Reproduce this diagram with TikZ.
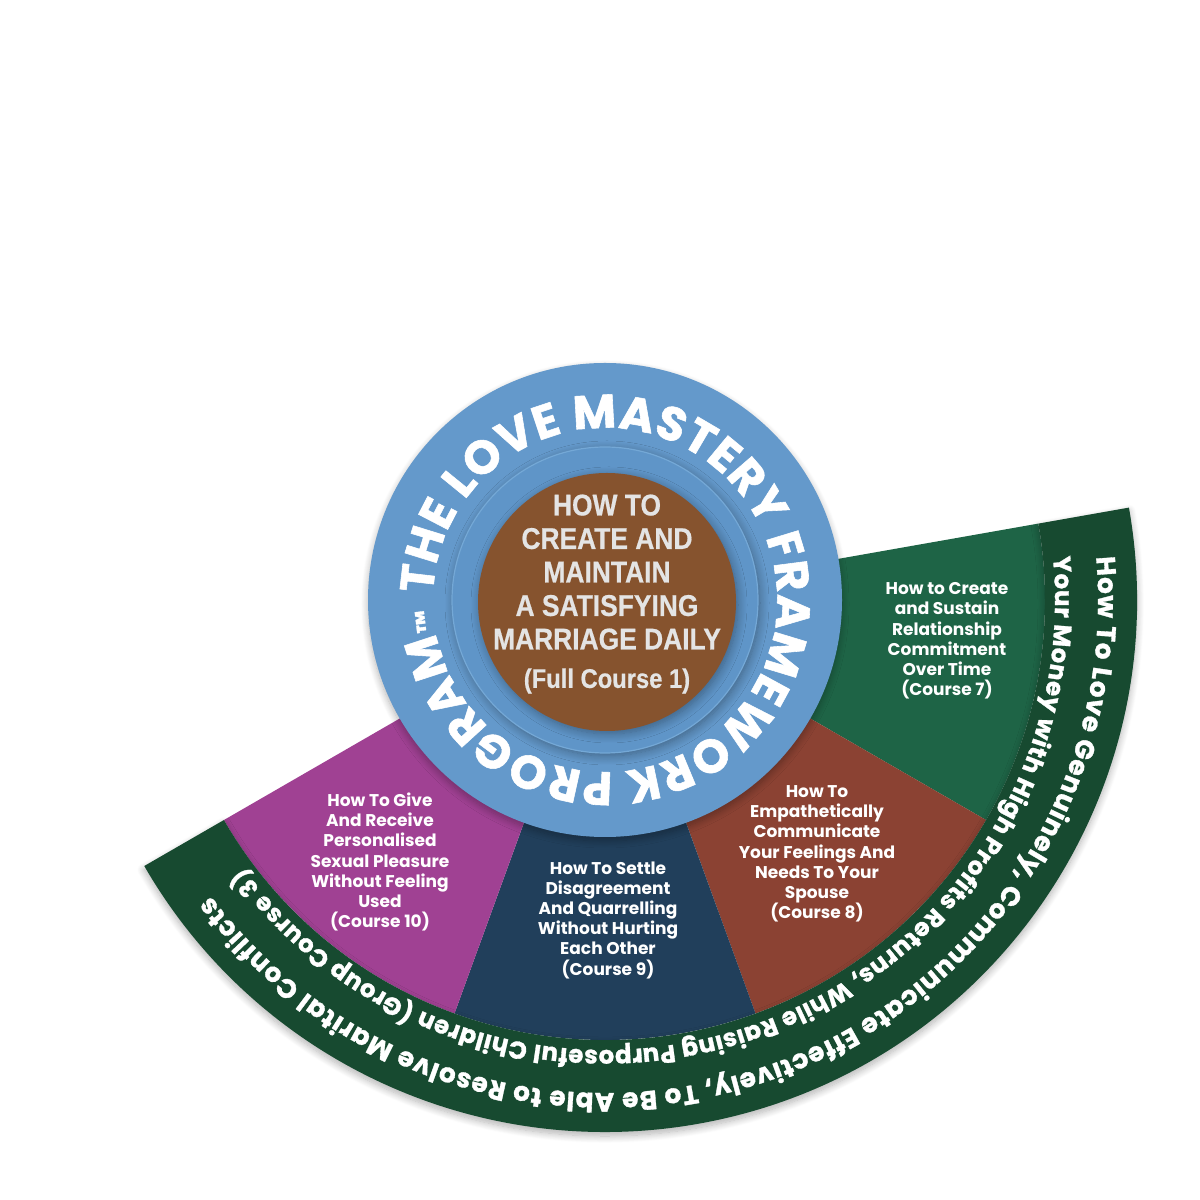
\documentclass[tikz,border=0pt]{standalone}
\usepackage{fontspec}
\usetikzlibrary{decorations.text,shadows.blur}
\newfontfamily\popfont{Poppins}[UprightFont={* Bold}]
\newfontfamily\popheavy{Poppins}[UprightFont={* Bold}, FakeBold=1.2]
\newfontfamily\condfont{Liberation Sans}[UprightFont={* Bold}, FakeStretch=0.88, FakeBold=0.6]
\definecolor{blueC}{HTML}{6499CB}
\definecolor{haloC}{HTML}{5F95C8}
\definecolor{haloEdge}{HTML}{74A8D6}
\definecolor{brownC}{HTML}{86532E}
\definecolor{coreTxt}{HTML}{E4E4E4}
\definecolor{bandG}{HTML}{174A30}
\definecolor{segG}{HTML}{1E6446}
\definecolor{segR}{HTML}{8B4233}
\definecolor{segN}{HTML}{213F5B}
\definecolor{segM}{HTML}{A04193}
\newcommand\myRingFont{\popheavy\fontsize{47}{47}\selectfont}
\newcommand\myTmFont{\popheavy\fontsize{26}{26}\selectfont}
\newcommand\myBandFontA{\popheavy\fontsize{26.5}{26.5}\selectfont}
\newcommand\myBandFontB{\popheavy\fontsize{24.5}{24.5}\selectfont}
\newcommand\mySegFont{\popfont\fontsize{17}{20.2}\selectfont}
\newcommand\myCoreFont{\condfont\fontsize{30}{33.5}\selectfont}
\tikzset{
  segtext/.style={text=white, align=center, font=\mySegFont, inner sep=0pt},
  softshadow/.style={blur shadow={shadow blur steps=10, shadow xshift=0pt, shadow yshift=-4pt, shadow blur radius=7pt, shadow opacity=30}},
  innershadow/.style={blur shadow={shadow blur steps=10, shadow xshift=2pt, shadow yshift=-3pt, shadow blur radius=9pt, shadow opacity=35}}
}
\begin{document}
\begin{tikzpicture}[x=1pt,y=1pt]
\useasboundingbox (0,0) rectangle (1200,1200);
\coordinate (C) at (605,600);
% segments
\fill[segG] (C) -- ++(10:440) arc[start angle=10,end angle=-30,radius=440] -- cycle;
\fill[segR] (C) -- ++(-30:440) arc[start angle=-30,end angle=-70,radius=440] -- cycle;
\fill[segN] (C) -- ++(-70:440) arc[start angle=-70,end angle=-110,radius=440] -- cycle;
\fill[segM] (C) -- ++(-110:440) arc[start angle=-110,end angle=-150,radius=440] -- cycle;
% outer band
\fill[bandG, softshadow] ([shift={(10:532)}]C) arc[start angle=10,end angle=-150,radius=532]
  -- ([shift={(-150:440)}]C) arc[start angle=-150,end angle=10,radius=440] -- cycle;
% central circles
\node[circle, fill=blueC, minimum size=474, inner sep=0pt, softshadow] (ring) at (C) {};
\node[circle, fill=haloC, draw=haloEdge, line width=1.2, minimum size=306, inner sep=0pt, innershadow] (halo) at (C) {};
\node[circle, fill=brownC, minimum size=258, inner sep=0pt, innershadow] (core) at (607,598) {};
\node[text=coreTxt, align=center, font=\myCoreFont, inner sep=0pt] (coretext) at (607,606)
  {HOW TO\\CREATE AND\\MAINTAIN\\A SATISFYING\\MARRIAGE DAILY\\[5pt]{\fontsize{27}{27}\selectfont (Full Course 1)}};
% ring title
\path[decorate, decoration={text along path, text color=white, text align=fit to path,
  text={|\myRingFont|THE LOVE MASTERY FRAMEWORK PROGRAM|\myTmFont|™}}]
  ([shift={(178:172)}]C) arc[start angle=178,end angle=-177,radius=172];
% band titles
\path[decorate, decoration={text along path, text color=white, text align=fit to path,
  text={|\myBandFontA|How To Love Genuinely, Communicate Effectively, To Be Able to Resolve Marital Conflicts}}]
  ([shift={(5:493)}]C) arc[start angle=5,end angle=-143,radius=493];
\path[decorate, decoration={text along path, text color=white, text align=fit to path,
  text={|\myBandFontB|Your Money with High Profits Returns, While Raising Purposeful Children (Group Course 3)}}]
  ([shift={(5.5:450)}]C) arc[start angle=5.5,end angle=-143.5,radius=450];
% segment texts
\node[segtext] (c7) at (947,559) {How to Create\\and Sustain\\Relationship\\Commitment\\Over Time\\(Course 7)};
\node[segtext] (c8) at (817,346) {How To\\Empathetically\\Communicate\\Your Feelings And\\Needs To Your\\Spouse\\(Course 8)};
\node[segtext] (c9) at (608,280) {How To Settle\\Disagreement\\And Quarrelling\\Without Hurting\\Each Other\\(Course 9)};
\node[segtext] (c10) at (380,338) {How To Give\\And Receive\\Personalised\\Sexual Pleasure\\Without Feeling\\Used\\(Course 10)};
\end{tikzpicture}
\end{document}
